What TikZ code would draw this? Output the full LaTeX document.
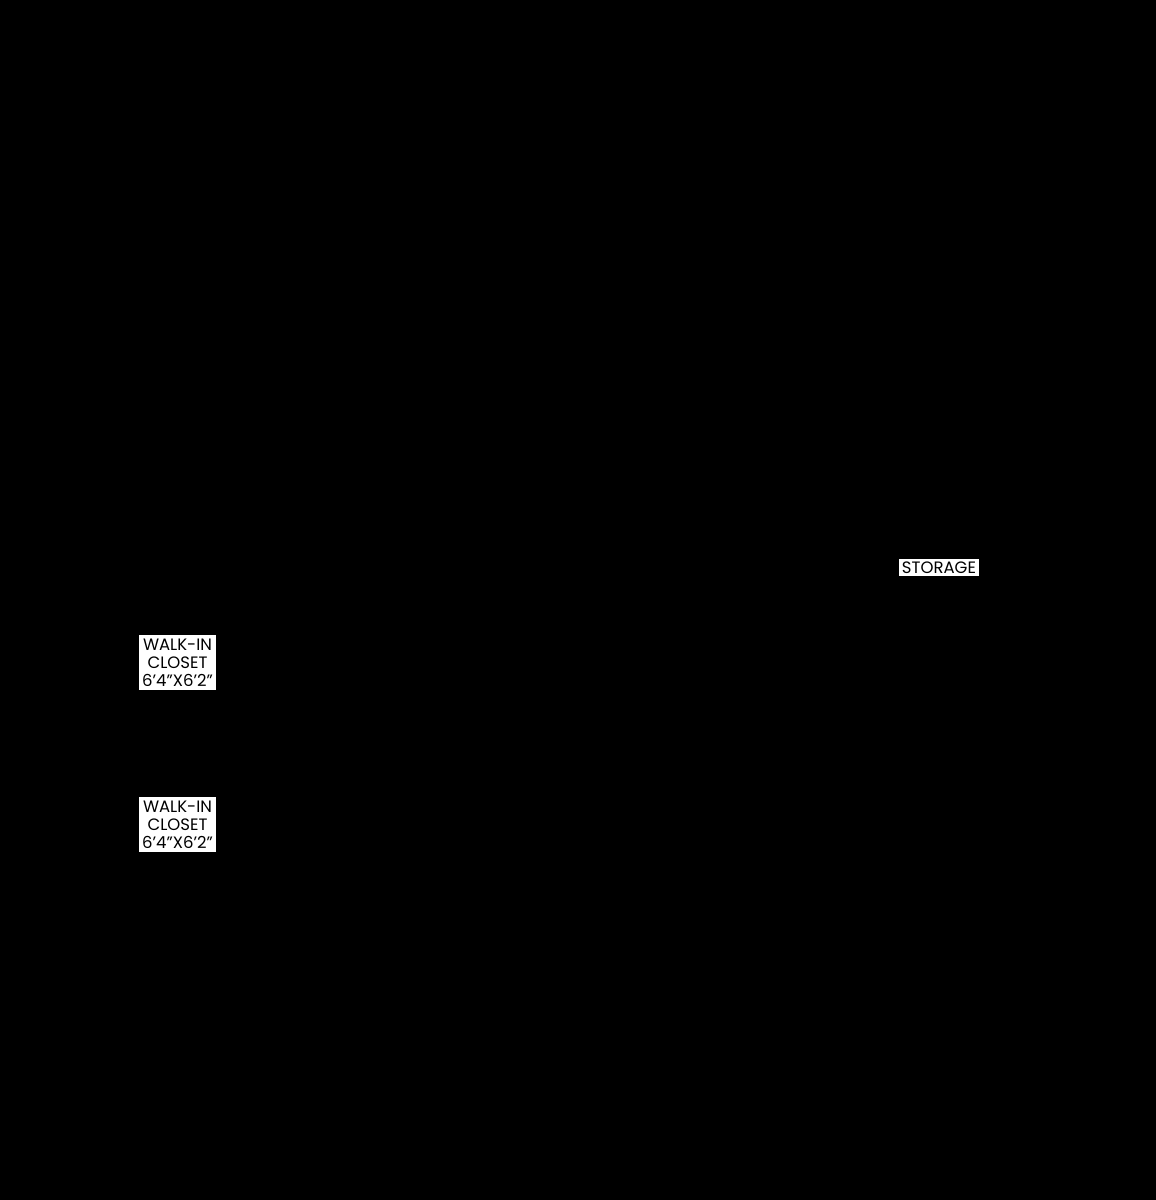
\documentclass[tikz,border=0pt]{standalone}
\usepackage{fontspec}
\setmainfont{Poppins}
\usetikzlibrary{positioning}

\newcommand{\ft}{\symbol{39}}
\newcommand{\inch}{\symbol{34}}

\tikzset{
    roomlabel/.style = {fill=white, text=black, align=center,
        inner xsep=3pt, inner ysep=4pt,
        font=\fontsize{16.5}{18}\selectfont}
}

\begin{document}
\begin{tikzpicture}[x=1pt, y=-1pt]
    % Background
    \fill[black] (0,0) rectangle (1156,1200);
    \useasboundingbox (0,0) rectangle (1156,1200);

    % Rooms
    \node[roomlabel] (closetA) at (177.5,662.5) {WALK-IN\\CLOSET\\6\ft4\inch X6\ft2\inch};
    \node[roomlabel] (closetB) at (177.5,824.5) {WALK-IN\\CLOSET\\6\ft4\inch X6\ft2\inch};
    \node[roomlabel, inner ysep=3pt] (storage) at (939,567.5) {STORAGE};
\end{tikzpicture}
\end{document}
